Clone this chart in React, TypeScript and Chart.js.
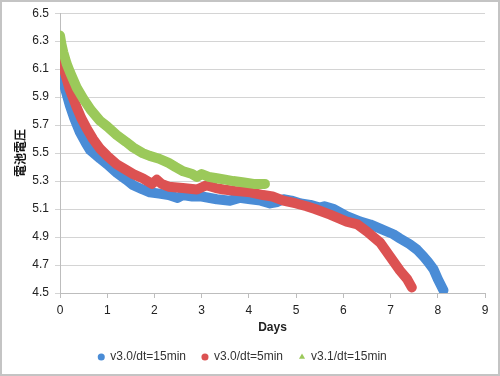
import React, { useEffect, useRef } from "react";
import { Chart, registerables } from "chart.js";

Chart.register(...registerables);

const blueDays = [0.0, 0.05, 0.1, 0.21, 0.3, 0.42, 0.55, 0.64, 0.85, 1.0, 1.2, 1.4, 1.55, 1.75, 1.9, 2.1, 2.3, 2.49, 2.6, 2.8, 3.0, 3.32, 3.6, 3.8, 4.03, 4.25, 4.45, 4.6, 4.73, 4.9, 5.1, 5.3, 5.5, 5.6, 5.8, 6.07, 6.36, 6.57, 6.78, 7.06, 7.2, 7.4, 7.56, 7.7, 7.8, 7.91, 8.0, 8.12];
const blueVolts = [6.1, 6.03, 5.97, 5.84, 5.75, 5.65, 5.57, 5.52, 5.46, 5.42, 5.36, 5.31, 5.27, 5.24, 5.22, 5.21, 5.2, 5.18, 5.2, 5.19, 5.19, 5.17, 5.16, 5.18, 5.17, 5.16, 5.14, 5.15, 5.17, 5.16, 5.14, 5.13, 5.11, 5.12, 5.1, 5.05, 5.01, 4.99, 4.96, 4.92, 4.89, 4.85, 4.81, 4.76, 4.72, 4.67, 4.6, 4.52];

const redDays = [0.0, 0.04, 0.1, 0.2, 0.35, 0.45, 0.56, 0.7, 0.85, 1.0, 1.2, 1.4, 1.55, 1.75, 1.95, 2.05, 2.15, 2.3, 2.6, 2.9, 3.1, 3.3, 3.46, 3.7, 4.03, 4.3, 4.5, 4.73, 5.0, 5.22, 5.4, 5.72, 6.07, 6.3, 6.5, 6.78, 6.99, 7.2, 7.35, 7.45];
const redVolts = [6.25, 6.17, 6.08, 5.96, 5.83, 5.75, 5.68, 5.6, 5.53, 5.48, 5.42, 5.38, 5.35, 5.32, 5.28, 5.31, 5.28, 5.26, 5.25, 5.24, 5.27, 5.25, 5.24, 5.23, 5.22, 5.2, 5.19, 5.16, 5.14, 5.12, 5.1, 5.06, 5.01, 4.99, 4.94, 4.86, 4.76, 4.66, 4.6, 4.54];

const greenDays = [0.0, 0.03, 0.07, 0.14, 0.21, 0.35, 0.49, 0.65, 0.85, 1.0, 1.2, 1.4, 1.55, 1.75, 1.9, 2.1, 2.3, 2.45, 2.61, 2.8, 2.9, 3.0, 3.15, 3.32, 3.5, 3.67, 3.9, 4.1, 4.34];
const greenVolts = [6.34, 6.28, 6.22, 6.14, 6.08, 5.97, 5.89, 5.81, 5.73, 5.69, 5.63, 5.58, 5.54, 5.5, 5.48, 5.46, 5.43, 5.4, 5.37, 5.35, 5.33, 5.35, 5.33, 5.32, 5.31, 5.3, 5.29, 5.28, 5.28];

const seriesNames = ["v3.0/dt=15min", "v3.0/dt=5min", "v3.1/dt=15min"];
const seriesColors = ["#4a8cd6", "#dc5252", "#9bc95a"];
const xTicks = [0, 1, 2, 3, 4, 5, 6, 7, 8, 9];
const yTicks = [4.5, 4.7, 4.9, 5.1, 5.3, 5.5, 5.7, 5.9, 6.1, 6.3, 6.5];
const xTitle = "Days";
const yTitle = "電池電圧";

const FONT = "'Liberation Sans', Arial, sans-serif";

function pts(xs: number[], ys: number[]) {
  return xs.map((x, i) => ({ x, y: ys[i] }));
}

export default function App() {
  const ref = useRef<HTMLCanvasElement | null>(null);
  useEffect(() => {
    if (!ref.current) return;
    const mk = (i: number, xs: number[], ys: number[], style: string, order: number) => ({
      label: seriesNames[i],
      data: pts(xs, ys),
      showLine: true,
      borderColor: seriesColors[i],
      backgroundColor: seriesColors[i],
      borderWidth: 10,
      borderCapStyle: "round" as const,
      borderJoinStyle: "round" as const,
      pointRadius: 0,
      pointHoverRadius: 0,
      pointStyle: style,
      order,
    });
    const chart = new Chart(ref.current, {
      type: "scatter",
      data: {
        datasets: [
          mk(0, blueDays, blueVolts, "circle", 3),
          mk(1, redDays, redVolts, "circle", 2),
          mk(2, greenDays, greenVolts, "triangle", 1),
        ],
      },
      options: {
        responsive: false,
        animation: false,
        events: [],
        layout: { padding: { left: 0, right: 15, top: 13, bottom: 3 } },
        scales: {
          x: {
            type: "linear",
            min: 0,
            max: 9,
            afterBuildTicks: (s: any) => {
              s.ticks = xTicks.map((v) => ({ value: v }));
            },
            afterFit: (s: any) => {
              s.height = 42;
            },
            ticks: {
              font: { family: FONT, size: 12 },
              color: "#222",
              padding: 5,
            },
            grid: {
              drawOnChartArea: false,
              drawTicks: true,
              tickLength: 5,
              color: "#bdbdbd",
            },
            border: { color: "#bdbdbd", width: 1 },
            title: {
              display: true,
              text: xTitle,
              font: { family: FONT, size: 12, weight: "bold" },
              color: "#222",
              padding: { top: 0, bottom: 0 },
            },
          },
          y: {
            type: "linear",
            min: 4.5,
            max: 6.5,
            afterBuildTicks: (s: any) => {
              s.ticks = yTicks.map((v) => ({ value: v }));
            },
            afterFit: (s: any) => {
              s.width = 60;
            },
            ticks: {
              font: { family: FONT, size: 12 },
              color: "#222",
              padding: 6,
              callback: (v: any) => Number(v).toFixed(1),
            },
            grid: {
              color: "#d4d4d4",
              tickLength: 5,
            },
            border: { color: "#bdbdbd", width: 1 },
            title: {
              display: true,
              text: yTitle,
              font: { family: "'Noto Sans CJK JP', sans-serif", size: 12, weight: "bold" },
              color: "#111",
              padding: { top: 13, bottom: 0 },
            },
          },
        },
        plugins: {
          tooltip: { enabled: false },
          legend: {
            position: "bottom",
            labels: {
              usePointStyle: true,
              boxWidth: 6,
              boxHeight: 5,
              padding: 16,
              color: "#333",
              font: { family: FONT, size: 12 },
              sort: (a: any, b: any) => a.datasetIndex - b.datasetIndex,
              generateLabels: (c: any) =>
                Chart.defaults.plugins.legend.labels
                  .generateLabels(c)
                  .map((l: any) => ({ ...l, lineWidth: 0 })),
            },
          },
        },
      },
    } as any);
    return () => chart.destroy();
  }, []);
  return (
    <div style={{ position: "fixed", left: 0, top: 0, width: 500, height: 376, background: "#fff" }}>
      <canvas ref={ref} width={500} height={376} style={{ position: "absolute", left: 0, top: 0 }} />
      <div
        style={{
          position: "absolute",
          left: 0,
          top: 0,
          width: 500,
          height: 376,
          boxSizing: "border-box",
          border: "2px solid #c4c4c4",
          pointerEvents: "none",
        }}
      />
    </div>
  );
}
